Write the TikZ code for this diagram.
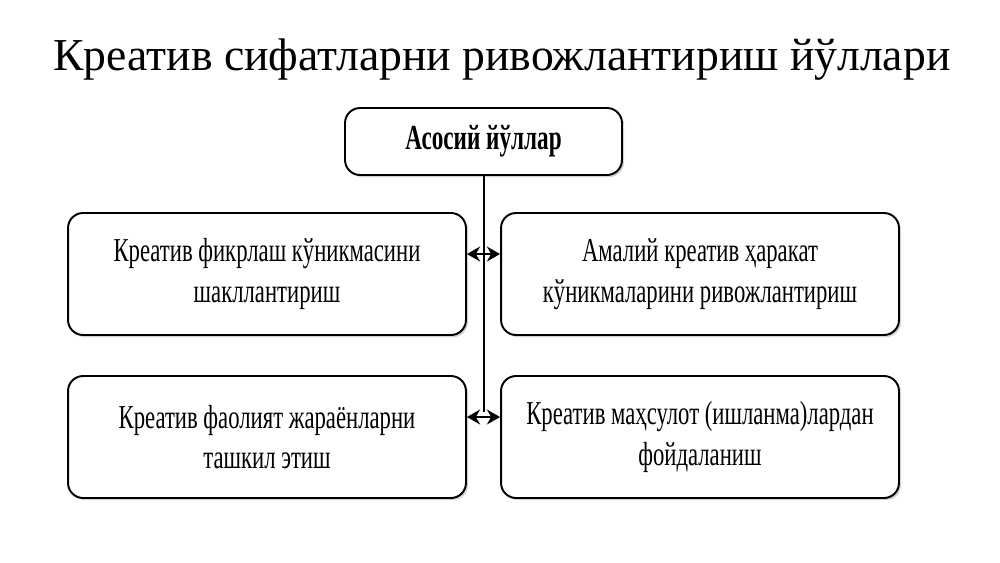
\documentclass[tikz,border=0pt]{standalone}
\usepackage{fontspec}
\setmainfont{Liberation Serif}
\newfontfamily\narrowfont[FakeStretch=0.68]{Liberation Serif}
\newfontfamily\headfont[FakeStretch=0.66]{Liberation Serif}
\usetikzlibrary{arrows.meta,shadows}
\tikzset{
  box/.style={draw=black, line width=1.1pt, rounded corners=0.3cm, fill=white,
    minimum width=7.96cm, minimum height=2.44cm, align=center, inner sep=2pt,
    font=\narrowfont\fontsize{19}{23}\selectfont,
    drop shadow={shadow xshift=1.2pt, shadow yshift=-1.2pt, opacity=0.35}},
  headbox/.style={box, minimum width=5.54cm, minimum height=1.34cm,
    font=\headfont\bfseries\fontsize{20}{22}\selectfont},
  link/.style={line width=1.6pt, {Stealth[length=7.5pt,width=8.5pt]}-{Stealth[length=7.5pt,width=8.5pt]}},
  trunk/.style={line width=1.6pt}
}
\begin{document}
\begin{tikzpicture}[x=0.02cm,y=-0.02cm]
\useasboundingbox[fill=white] (0,0) rectangle (1000,562);
\node[font=\fontsize{26}{30}\selectfont] (title) at (502,60) {Креатив сифатларни ривожлантириш йўллари};
\node[headbox] (top) at (483.5,141.5) {Асосий йўллар};
\node[box] (l1) at (267,274) {Креатив фикрлаш кўникмасини\\шакллантириш};
\node[box] (r1) at (700,274) {Амалий креатив ҳаракат\\кўникмаларини ривожлантириш};
\node[box] (l2) at (267,437) {Креатив фаолият жараёнларни\\ташкил этиш};
\node[box] (r2) at (700,437) {Креатив маҳсулот (ишланма)лардан\\фойдаланиш};
\coordinate (vend) at (484,412);
\draw[trunk] (top.south -| vend) -- (vend);
\draw[link] ([yshift=0.4cm]l1.east) -- ([yshift=0.4cm]r1.west);
\draw[link] ([yshift=0.4cm]l2.east) -- ([yshift=0.4cm]r2.west);
\end{tikzpicture}
\end{document}
